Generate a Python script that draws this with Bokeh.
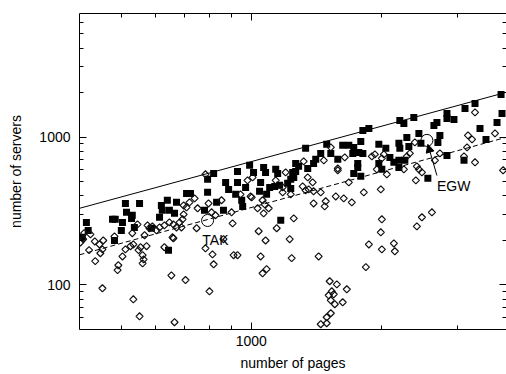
from bokeh.plotting import figure
from bokeh.models import LogAxis, FixedTicker, PrintfTickFormatter, Arrow, NormalHead
from bokeh.core.properties import value
from bokeh.embed import file_html
from bokeh.resources import INLINE
import math

FONT = "Liberation Sans"

# ---- axis ticks ----
x_major = [1000]
x_minor = [500, 600, 700, 800, 900, 2000, 3000]
y_major = [100, 1000]
y_minor = [60, 70, 80, 90, 200, 300, 400, 500, 600, 700, 800, 900,
           2000, 3000, 4000, 5000, 6000]

# ---- filled squares (pages, servers) ----
sq_pages = [406, 415, 419, 477, 484, 482, 500, 503, 511, 514,
            528, 530, 536, 551, 587, 613, 619, 622, 639, 643,
            646, 664, 671, 708, 723, 779, 792, 792, 818, 831,
            862, 872, 886, 920, 950, 955, 929, 929, 991, 1012,
            970, 1051, 1045, 1068, 1079, 1085, 1103, 1133, 1139, 1151,
            1163, 1214, 1234, 1234, 1247, 1254, 1267, 1287, 1267, 1351,
            1336, 1394, 1410, 1448, 1495, 1528, 1586, 1628, 1682, 1727,
            1718, 1774, 1813, 1764, 1764, 1727, 1793, 1813, 1170, 1793,
            1872, 1974, 2049, 2094, 2139, 2197, 2268, 1974, 2006, 2197,
            2197, 2208, 2317, 2292, 2444, 2379, 2208, 2256, 2471, 2564,
            2648, 2691, 2705, 2734, 2839, 2839, 2947, 2839, 3109, 3126,
            3297, 3788, 3808, 3708, 3386, 3496]
sq_servers = [210, 265, 234, 278, 278, 200, 234, 265, 356, 310,
              282, 296, 245, 356, 242, 287, 345, 320, 374, 172,
              320, 305, 362, 416, 416, 320, 518, 423, 568, 362,
              320, 494, 443, 410, 374, 340, 586, 494, 644, 577,
              457, 494, 430, 624, 577, 410, 457, 464, 605, 568,
              472, 487, 450, 518, 577, 534, 664, 634, 586, 614,
              839, 664, 707, 776, 893, 776, 707, 879, 879, 852,
              776, 788, 776, 664, 624, 568, 543, 1110, 274, 935,
              1145, 893, 839, 729, 675, 696, 696, 664, 605, 624,
              907, 839, 865, 995, 1059, 1359, 1297, 1238, 907, 526,
              1200, 1257, 921, 1027, 1446, 1338, 1317, 752, 696, 1563,
              1690, 1943, 1446, 1257, 1145, 965]

# ---- open diamonds (pages, servers) ----
dm_pages = [402, 408, 410, 424, 421, 434, 445, 454, 452, 447,
            435, 482, 511, 503, 492, 490, 525, 530, 533, 554,
            572, 548, 560, 563, 560, 545, 566, 575, 581, 590,
            603, 613, 629, 646, 660, 657, 671, 682, 689, 693,
            697, 708, 719, 739, 747, 751, 783, 796, 809, 853,
            629, 660, 653, 704, 783, 813, 818, 910, 929, 862,
            800, 452, 533, 551, 664, 697, 826, 900, 944, 996,
            980, 1007, 1002, 1062, 1074, 1097, 1068, 1034, 905, 1139,
            1182, 1182, 1234, 1201, 1322, 1351, 1387, 1315, 1336, 1358,
            1394, 1448, 1472, 1646, 1586, 1586, 1394, 1487, 1479, 1569,
            1637, 1709, 1682, 1822, 1254, 1145, 1040, 1079, 1227, 1051,
            1240, 1432, 1085, 1062, 1995, 1528,
            3297, 3668, 3176, 3245, 3160, 3297, 3109, 2734, 2662, 2392,
            1933, 1902, 2028, 2006, 2329, 2292, 1953, 2060, 2256, 2418,
            2444, 2484, 2405, 3830,
            2006, 1995, 1872, 2139, 2150, 2006, 2418, 2484, 2620, 1842,
            1519, 1578, 1664, 1536, 1511, 1552, 1528, 1561, 1628, 1528,
            1495, 1495, 1448]
dm_servers = [194, 204, 224, 220, 172, 197, 188, 200, 174, 164,
              145, 213, 174, 156, 136, 126, 183, 224, 188, 180,
              183, 172, 159, 149, 140, 257, 217, 253, 242, 249,
              234, 245, 253, 265, 257, 210, 245, 265, 245, 278,
              345, 335, 362, 385, 242, 330, 560, 356, 310, 374,
              180, 207, 116, 108, 177, 161, 138, 159, 159, 204,
              90.6, 95, 80, 61.4, 56, 300, 296, 310, 410, 397,
              510, 534, 391, 374, 351, 330, 305, 330, 261, 510,
              457, 423, 410, 577, 685, 534, 494, 464, 436, 443,
              430, 423, 696, 729, 614, 596, 356, 368, 340, 397,
              385, 362, 494, 423, 282, 242, 231, 200, 204, 156,
              152, 156, 128, 120, 443, 852,
              1469, 1059, 1027, 965, 852, 675, 741, 776, 696, 921,
              764, 741, 764, 718, 776, 741, 605, 560, 605, 634,
              605, 577, 510, 596,
              278, 227, 188, 191, 169, 174, 249, 287, 310, 132,
              106, 101, 93.5, 90.6, 85.2, 86.5, 78.8, 74.1, 76.4, 64.4,
              60.5, 55.1, 54.3]

# ---- fitted lines ----
fit_pages = [400, 3900]
fit_upper = [330, 2010]
fit_lower = [160, 998]

# ---- annotations ----
mark_pages = [792, 2551]
mark_servers = [273, 950]
label_text = ["TAK", "EGW"]
label_pages = [770, 2691]
label_servers = [200, 464]
arrow_from = (2691, 550)
arrow_to = (2564, 893)

p = figure(width=506, height=374, x_axis_type="log", y_axis_type="log",
           x_range=(400, 3900), y_range=(50, 6850),
           output_backend="svg", toolbar_location=None,
           min_border_left=79, min_border_right=0,
           min_border_top=13, min_border_bottom=45)
p.grid.visible = False
p.outline_line_color = None
p.background_fill_color = "white"
p.border_fill_color = "white"


def style_axis(ax, ticks, minor, labels=True):
    ax.ticker = FixedTicker(ticks=ticks, minor_ticks=minor)
    ax.axis_line_color = "black"
    ax.axis_line_width = 1
    ax.major_tick_line_color = "black"
    ax.minor_tick_line_color = "black"
    ax.major_tick_in = 7
    ax.major_tick_out = 0
    ax.minor_tick_in = 4
    ax.minor_tick_out = 0
    ax.formatter = PrintfTickFormatter(format="%d")
    if labels:
        ax.major_label_text_font = FONT
        ax.major_label_text_font_size = "14px"
        ax.major_label_text_color = "black"
        ax.axis_label_text_font = FONT
        ax.axis_label_text_font_size = "14px"
        ax.axis_label_text_font_style = "normal"
        ax.axis_label_text_color = "black"
    else:
        ax.major_label_text_font_size = "1px"
        ax.major_label_text_alpha = 0
        ax.major_label_standoff = 0


style_axis(p.xaxis[0], x_major, x_minor)
p.xaxis[0].axis_label = "number of pages"
p.xaxis[0].major_label_standoff = 6
p.xaxis[0].axis_label_standoff = 6

style_axis(p.yaxis[0], y_major, y_minor)
p.yaxis[0].axis_label = "number of servers"
p.yaxis[0].major_label_standoff = 9
p.yaxis[0].axis_label_standoff = 12

top = LogAxis()
style_axis(top, x_major, x_minor, labels=False)
p.add_layout(top, "above")
right = LogAxis()
style_axis(right, y_major, y_minor, labels=False)
right.axis_line_color = None
p.add_layout(right, "right")

p.line(fit_pages, fit_upper, line_color="black", line_width=1)
p.line(fit_pages, fit_lower, line_color="black", line_width=1, line_dash="5 3")

p.scatter(sq_pages, sq_servers, marker="square", size=7,
          fill_color="black", line_color=None)
p.scatter(dm_pages, dm_servers, marker="square", size=5, angle=math.pi / 4,
          fill_color=None, line_color="#111111", line_width=1.2)

p.scatter(mark_pages, mark_servers, marker="circle", size=12,
          fill_color=None, line_color="black", line_width=1)
p.text(label_pages, label_servers, text=label_text,
       text_font=value(FONT), text_font_size="14px", text_color="black",
       text_align="left", text_baseline="alphabetic")
p.add_layout(Arrow(end=NormalHead(size=8, fill_color="black", line_color="black"),
                   x_start=arrow_from[0], y_start=arrow_from[1],
                   x_end=arrow_to[0], y_end=arrow_to[1],
                   line_color="black", line_width=1))

open("out.html", "w").write(file_html(p, INLINE))
